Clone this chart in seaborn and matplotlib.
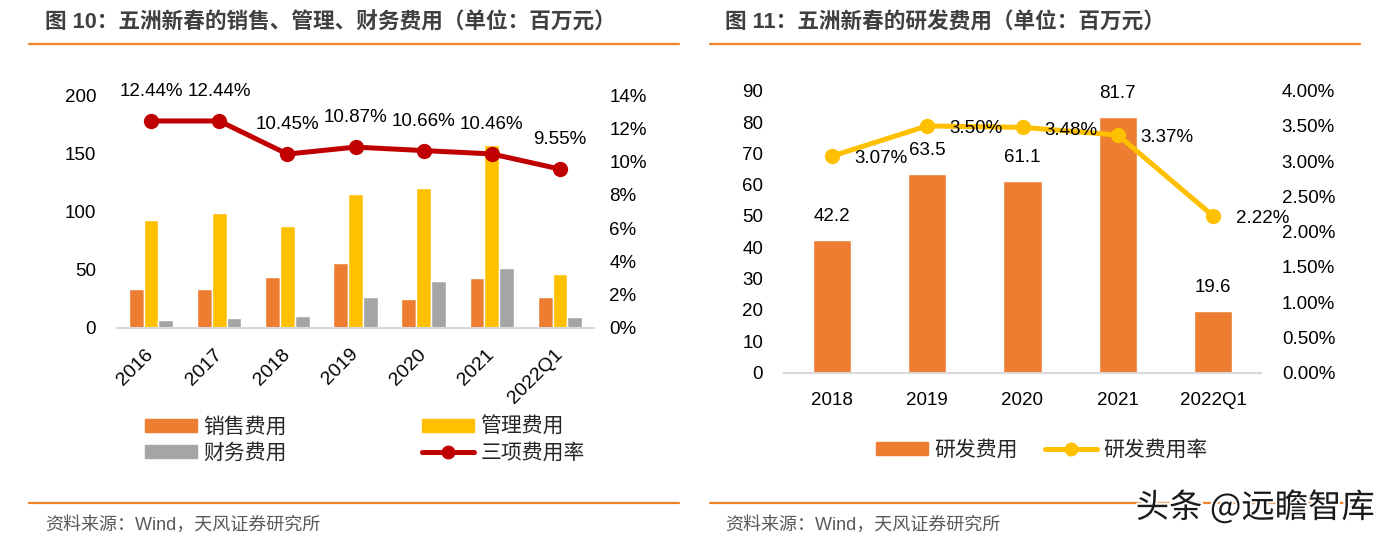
import numpy as np
import pandas as pd
import matplotlib
matplotlib.use("Agg")
import matplotlib.pyplot as plt
import matplotlib.patheffects as pe
from matplotlib.lines import Line2D
from matplotlib.patches import Patch
from matplotlib.ticker import FuncFormatter, MultipleLocator
import seaborn as sns

# ---------------- data ----------------
cats_left = ["2016", "2017", "2018", "2019", "2020", "2021", "2022Q1"]
sales_exp = [33.5, 33.8, 43.8, 55.6, 25.2, 43.3, 26.6]
admin_exp = [92.3, 99.1, 87.7, 114.6, 120.3, 157.0, 46.1]
fin_exp = [6.6, 8.3, 10.6, 26.6, 40.4, 51.9, 9.7]
total_rate = [12.44, 12.44, 10.45, 10.87, 10.66, 10.46, 9.55]
series_left = ["销售费用", "管理费用", "财务费用"]
rate_left_name = "三项费用率"

cats_right = ["2018", "2019", "2020", "2021", "2022Q1"]
rd_exp = [42.2, 63.5, 61.1, 81.7, 19.6]
rd_rate = [3.07, 3.50, 3.48, 3.37, 2.22]
rd_name = "研发费用"
rd_rate_name = "研发费用率"

title_left = "图 10：五洲新春的销售、管理、财务费用（单位：百万元）"
title_right = "图 11：五洲新春的研发费用（单位：百万元）"
source_text = "资料来源：Wind，天风证券研究所"
watermark = "头条 @远瞻智库"

# ---------------- style ----------------
sns.set_theme(style="white")
plt.rcParams["font.family"] = ["Liberation Sans", "Noto Sans CJK SC", "DejaVu Sans"]
plt.rcParams["axes.unicode_minus"] = False

ORANGE = "#ED7D31"
YELLOW = "#FFC000"
GRAY = "#A5A5A5"
RED = "#C00000"
LINE_ORANGE = "#F08228"
TXT = "#000000"
TICK_FS = 13.5
LEG_FS = 15

fig = plt.figure(figsize=(13.84, 5.42), dpi=100)
W, H = 1384, 542

def fx(px):
    return px / W

def fy(py):
    return 1 - py / H

# ---------------- left chart ----------------
axL = fig.add_axes([fx(117), fy(328), fx(594) - fx(117), fy(95) - fy(328)])
df_left = pd.DataFrame({
    "cat": cats_left * 3,
    "series": sum([[s] * len(cats_left) for s in series_left], []),
    "val": sales_exp + admin_exp + fin_exp,
})
sns.barplot(data=df_left, x="cat", y="val", hue="series", order=cats_left,
            hue_order=series_left, palette=[ORANGE, YELLOW, GRAY],
            width=0.65, gap=0, saturation=1, ax=axL, legend=False)
axL.set_ylim(0, 200)
axL.set_xlim(-0.5, len(cats_left) - 0.5)
axL.yaxis.set_major_locator(MultipleLocator(50))
axL.set_xlabel("")
axL.set_ylabel("")

axL2 = axL.twinx()
xl = np.arange(len(cats_left))
sns.lineplot(x=xl, y=total_rate, ax=axL2, color=RED, linewidth=3.6,
             marker="o", markersize=11, markeredgewidth=0, legend=False)
axL2.set_ylim(0, 14)
axL2.yaxis.set_major_locator(MultipleLocator(2))
axL2.yaxis.set_major_formatter(FuncFormatter(lambda v, p: f"{v:.0f}%"))
axL2.set_xlim(-0.5, len(cats_left) - 0.5)
for x, v in zip(xl, total_rate):
    axL2.annotate(f"{v:.2f}%", (x, v), xytext=(0, 21), textcoords="offset points",
                  ha="center", va="center", fontsize=TICK_FS, color=TXT)

for ax in (axL, axL2):
    for s in ax.spines.values():
        s.set_visible(False)
    ax.tick_params(length=0, labelsize=TICK_FS, colors=TXT)
axL.spines["bottom"].set_visible(True)
axL.spines["bottom"].set_color("#D9D9D9")
axL.spines["bottom"].set_linewidth(1.5)
axL.tick_params(axis="y", pad=15)
axL2.tick_params(axis="y", pad=11)
axL.tick_params(axis="x", pad=17, labelsize=14)
for lab in axL.get_xticklabels():
    lab.set_rotation(45)
    lab.set_ha("right")
    lab.set_va("center")
    lab.set_rotation_mode("anchor")
axL.grid(False)
axL2.grid(False)

handles_left = [
    Patch(color=ORANGE, label=series_left[0]),
    Patch(color=GRAY, label=series_left[2]),
    Patch(color=YELLOW, label=series_left[1]),
    Line2D([], [], color=RED, linewidth=3.6, marker="o", markersize=9, label=rate_left_name),
]
fig.legend(handles=handles_left, loc="center", bbox_to_anchor=(fx(365), fy(440)),
           ncol=2, frameon=False, fontsize=LEG_FS, handlelength=2.5, handleheight=0.6,
           handletextpad=0.3, columnspacing=6.5, labelspacing=0.3, numpoints=1)

# ---------------- right chart ----------------
axR = fig.add_axes([fx(784), fy(372.5), fx(1261) - fx(784), fy(90.7) - fy(372.5)])
df_right = pd.DataFrame({"cat": cats_right, "val": rd_exp})
sns.barplot(data=df_right, x="cat", y="val", order=cats_right, color=ORANGE,
            width=0.4, saturation=1, ax=axR)
axR.set_ylim(0, 90)
axR.set_xlim(-0.5, len(cats_right) - 0.5)
axR.yaxis.set_major_locator(MultipleLocator(10))
axR.set_xlabel("")
axR.set_ylabel("")
for x, v in enumerate(rd_exp):
    axR.annotate(f"{v:.1f}", (x, v), xytext=(0, 17), textcoords="offset points",
                 ha="center", va="center", fontsize=TICK_FS, color=TXT)

axR2 = axR.twinx()
xr = np.arange(len(cats_right))
sns.lineplot(x=xr, y=rd_rate, ax=axR2, color=YELLOW, linewidth=3.6,
             marker="o", markersize=11, markeredgewidth=0, legend=False)
axR2.set_ylim(0, 4)
axR2.yaxis.set_major_locator(MultipleLocator(0.5))
axR2.yaxis.set_major_formatter(FuncFormatter(lambda v, p: f"{v:.2f}%"))
axR2.set_xlim(-0.5, len(cats_right) - 0.5)
for x, v in zip(xr, rd_rate):
    axR2.annotate(f"{v:.2f}%", (x, v), xytext=(16, -2), textcoords="offset points",
                  ha="left", va="center", fontsize=TICK_FS, color=TXT)

for ax in (axR, axR2):
    for s in ax.spines.values():
        s.set_visible(False)
    ax.tick_params(length=0, labelsize=TICK_FS, colors=TXT)
    ax.grid(False)
axR.spines["bottom"].set_visible(True)
axR.spines["bottom"].set_color("#D9D9D9")
axR.spines["bottom"].set_linewidth(1.5)
axR.tick_params(axis="y", pad=15)
axR2.tick_params(axis="y", pad=15)
axR.tick_params(axis="x", pad=14)

handles_right = [
    Patch(color=ORANGE, label=rd_name),
    Line2D([], [], color=YELLOW, linewidth=3.6, marker="o", markersize=9, label=rd_rate_name),
]
fig.legend(handles=handles_right, loc="center", bbox_to_anchor=(fx(1042), fy(450)),
           ncol=2, frameon=False, fontsize=LEG_FS, handlelength=2.5, handleheight=0.6,
           handletextpad=0.3, columnspacing=1.3, numpoints=1)

# ---------------- titles, separators, source ----------------
for x0, x1, tx, title in ((29, 679, 45, title_left), (710, 1360, 725, title_right)):
    fig.add_artist(Line2D([fx(x0), fx(x1)], [fy(44.5), fy(44.5)], color=LINE_ORANGE,
                          linewidth=1.6, transform=fig.transFigure))
    fig.add_artist(Line2D([fx(x0), fx(x1)], [fy(503), fy(503)], color=LINE_ORANGE,
                          linewidth=1.6, transform=fig.transFigure))
    fig.text(fx(tx), fy(23), title, ha="left", va="center", fontsize=15.6,
             fontweight="bold", color="#404040")
    fig.text(fx(tx), fy(525), source_text, ha="left", va="center", fontsize=13,
             color="#595959")

fig.text(fx(1375), fy(508), watermark, ha="right", va="center", fontsize=24,
         color="#1a1a1a", family=["Noto Sans CJK SC", "DejaVu Sans"],
         path_effects=[pe.withStroke(linewidth=3, foreground="white")])

fig.savefig("out.png", dpi=100)
